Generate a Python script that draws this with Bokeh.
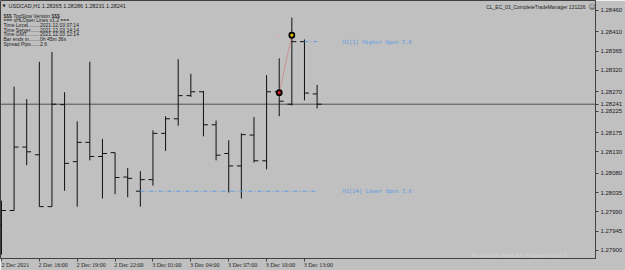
from bokeh.plotting import figure
from bokeh.models import Range1d, FixedTicker, PrintfTickFormatter, Label, ColumnDataSource, LinearAxis, PlainText
from bokeh.embed import file_html
from bokeh.resources import INLINE

# ---- data (USDCAD H1, 2 Dec 13:00 .. 3 Dec 14:00) ----
bar_index = list(range(26))
opens  = [1.27960, 1.27993, 1.28141, 1.28123, 1.28002, 1.28240, 1.28107, 1.28152, 1.28119, 1.28128,
          1.28071, 1.28038, 1.28065, 1.28173, 1.28207, 1.28261, 1.28270, 1.28193, 1.28126, 1.28097,
          1.28169, 1.28109, 1.28270, 1.28241, 1.28387, 1.28265]
highs  = [1.28016, 1.28282, 1.28253, 1.28340, 1.28363, 1.28269, 1.28201, 1.28340, 1.28160, 1.28128,
          1.28092, 1.28085, 1.28180, 1.28213, 1.28346, 1.28312, 1.28272, 1.28203, 1.28157, 1.28173,
          1.28211, 1.28309, 1.28348, 1.28443, 1.28392, 1.28286]
lows   = [1.27890, 1.27993, 1.28099, 1.28002, 1.28002, 1.28039, 1.28002, 1.28110, 1.28021, 1.28031,
          1.28024, 1.28002, 1.28051, 1.28132, 1.28191, 1.28258, 1.28166, 1.28110, 1.28035, 1.28021,
          1.28105, 1.28089, 1.28213, 1.28238, 1.28250, 1.28231]
closes = [1.27993, 1.28141, 1.28130, 1.28002, 1.28241, 1.28103, 1.28152, 1.28119, 1.28126, 1.28070,
          1.28068, 1.28065, 1.28173, 1.28207, 1.28261, 1.28270, 1.28193, 1.28122, 1.28097, 1.28170,
          1.28109, 1.28270, 1.28248, 1.28387, 1.28267, 1.28241]

bid_price = 1.28241
price_ticks = [1.27900, 1.27945, 1.27990, 1.28035, 1.28080, 1.28130, 1.28175,
               1.28225, 1.28270, 1.28320, 1.28365, 1.28410, 1.28460]
time_tick_bars = [0, 3, 6, 9, 12, 15, 18, 21, 24]
time_tick_labels = ["2 Dec 2021", "2 Dec 16:00", "2 Dec 19:00", "2 Dec 22:00", "3 Dec 01:00",
                    "3 Dec 04:00", "3 Dec 07:00", "3 Dec 10:00", "3 Dec 13:00"]

# open lines
higher_open_bars = [24, 25]
higher_open_price = 1.28387
higher_open_text = "H1[1] Higher Open 5.6"
lower_open_bars = [11, 25]
lower_open_price = 1.28038
lower_open_text = "H1[14] Lower Open 3.6"
label_bar = 27

# trade markers
marker_bars = [22, 23]
marker_prices = [1.28268, 1.28402]
marker_colors = ["#E02020", "#E8C000"]

info_labels = ["$$$ TooSlow Version $$$", "=== sHLOpen Lines v1.2 ===", "Time Local.........",
               "Time Server.......", "Time GMT.........", "Bar ends in........", "Spread Pips......."]
info_values = ["", "", "2021.12.03 07:14", "2021.12.03 14:14", "2021.12.03 12:14", "0h 45m 36s", "2.6"]
header_text = "USDCAD,H1  1.28265 1.28286 1.28231 1.28241"

BG = "#C0C0C0"
FONT = "Liberation Sans"
LABEL_SHIFT = 1.1  # time labels start just right of their tick (MT4 style)
Y0, Y1 = 1.27881, 1.28483
FH = 258

p = figure(width=625, height=270, x_range=Range1d(-0.0755, 47.05),
           y_range=Range1d(Y0, Y1), y_axis_location="right",
           output_backend="svg", toolbar_location=None, min_border=0,
           background_fill_color=BG, border_fill_color=BG)
p.grid.visible = False
p.outline_line_color = "#404040"

# price axis (bid price shown as an extra tick)
ya = p.yaxis[0]
ya.ticker = FixedTicker(ticks=sorted(price_ticks + [bid_price]))
ya.formatter = PrintfTickFormatter(format="%.5f")
ya.major_label_text_font = FONT
ya.major_label_text_font_size = "6px"
ya.major_label_text_color = "#202020"
ya.major_tick_out = 3
ya.major_tick_in = 0
ya.minor_tick_out = 0
ya.minor_tick_in = 0
ya.major_label_standoff = 2
ya.axis_line_color = "#404040"
ya.major_tick_line_color = "#404040"

# time axis: tick marks only
xa = p.xaxis[0]
xa.ticker = FixedTicker(ticks=time_tick_bars)
xa.major_label_overrides = {b: "" for b in time_tick_bars}
xa.major_label_text_font_size = "1px"
xa.major_label_standoff = 0
xa.major_tick_out = 3
xa.major_tick_in = 0
xa.minor_tick_out = 0
xa.minor_tick_in = 0
xa.axis_line_color = "#404040"
xa.major_tick_line_color = "#404040"

# time axis: labels placed right of the ticks
label_pos = [b + LABEL_SHIFT for b in time_tick_bars]
xl = LinearAxis(ticker=FixedTicker(ticks=label_pos),
                major_label_overrides={lp: t for lp, t in zip(label_pos, time_tick_labels)})
xl.major_label_text_font = "Liberation Serif"
xl.major_label_text_font_size = "6px"
xl.major_label_text_color = "#202020"
xl.major_tick_out = 0
xl.major_tick_in = 0
xl.minor_tick_out = 0
xl.minor_tick_in = 0
xl.major_label_standoff = 0
xl.axis_line_color = None
p.add_layout(xl, "below")

# bid line
p.line(x=[-1, 60], y=[bid_price, bid_price], line_color="#505050", line_width=1)

# OHLC bars
src = ColumnDataSource(dict(x=bar_index, o=opens, h=highs, l=lows, c=closes,
                            xl=[b - 0.35 for b in bar_index], xr=[b + 0.35 for b in bar_index]))
p.segment(x0="x", y0="l", x1="x", y1="h", source=src, line_color="#101010", line_width=1)
p.segment(x0="xl", y0="o", x1="x", y1="o", source=src, line_color="#101010", line_width=1)
p.segment(x0="x", y0="c", x1="xr", y1="c", source=src, line_color="#101010", line_width=1)

# open lines
BLUE = "#5B9BE3"
p.line(x=higher_open_bars, y=[higher_open_price] * 2, line_color=BLUE, line_width=1, line_dash="4 2 1 2")
p.line(x=lower_open_bars, y=[lower_open_price] * 2, line_color=BLUE, line_width=1, line_dash="4 2 1 2")
p.add_layout(Label(x=label_bar, y=higher_open_price, text=higher_open_text, text_font="DejaVu Sans Mono",
                   text_font_size="5.5px", text_color=BLUE, text_baseline="middle"))
p.add_layout(Label(x=label_bar, y=lower_open_price, text=lower_open_text, text_font="DejaVu Sans Mono",
                   text_font_size="5.5px", text_color=BLUE, text_baseline="middle"))

# trade markers
p.line(x=marker_bars, y=marker_prices, line_color="#E06060", line_width=1, line_dash="1 1")
p.segment(x0=[marker_bars[0] - 0.1], y0=[marker_prices[1]], x1=[marker_bars[0] + 0.1], y1=[marker_prices[1]],
          line_color="#E8A0A0", line_width=1)
p.scatter(x=marker_bars, y=marker_prices, size=5, fill_color=marker_colors,
          line_color="black", line_width=1.8)

# info texts (top-left), screen coordinates from frame bottom
p.add_layout(Label(x=2, y=FH - 5.3, x_units="screen", y_units="screen", text="\u25BC",
                   text_font="DejaVu Sans", text_font_size="4px", text_color="#202020", text_baseline="middle"))
p.add_layout(Label(x=8, y=FH - 5.3, x_units="screen", y_units="screen", text=header_text,
                   text_font=FONT, text_font_size="5.5px", text_color="#202020", text_baseline="middle"))
info_y = [15, 19.7, 24.3, 29, 33.7, 38.7, 43.3]
for t, v, yy in zip(info_labels, info_values, info_y):
    p.add_layout(Label(x=3, y=FH - yy, x_units="screen", y_units="screen", text=PlainText(text=t),
                       text_font=FONT, text_font_size="5px", text_color="#202020", text_baseline="middle"))
    if v:
        p.add_layout(Label(x=39.5, y=FH - yy, x_units="screen", y_units="screen", text=v,
                           text_font=FONT, text_font_size="5px", text_color="#202020", text_baseline="middle"))

p.add_layout(Label(x=585, y=FH - 6.7, x_units="screen", y_units="screen",
                   text="CL_EC_03_CompleteTradeManager 131226", text_font=FONT, text_font_size="5px",
                   text_color="#202020", text_baseline="middle", text_align="right"))
p.add_layout(Label(x=588, y=FH - 6.7, x_units="screen", y_units="screen", text="\u263A",
                   text_font="DejaVu Sans", text_font_size="7px", text_color="#404040", text_baseline="middle"))
p.add_layout(Label(x=567, y=FH - 254, x_units="screen", y_units="screen",
                   text="Product of Wise-EA Programming \u00A9", text_font=FONT, text_font_size="6px",
                   text_color="#D4D4D4", text_baseline="middle", text_align="right"))

open("out.html", "w").write(file_html(p, INLINE))
